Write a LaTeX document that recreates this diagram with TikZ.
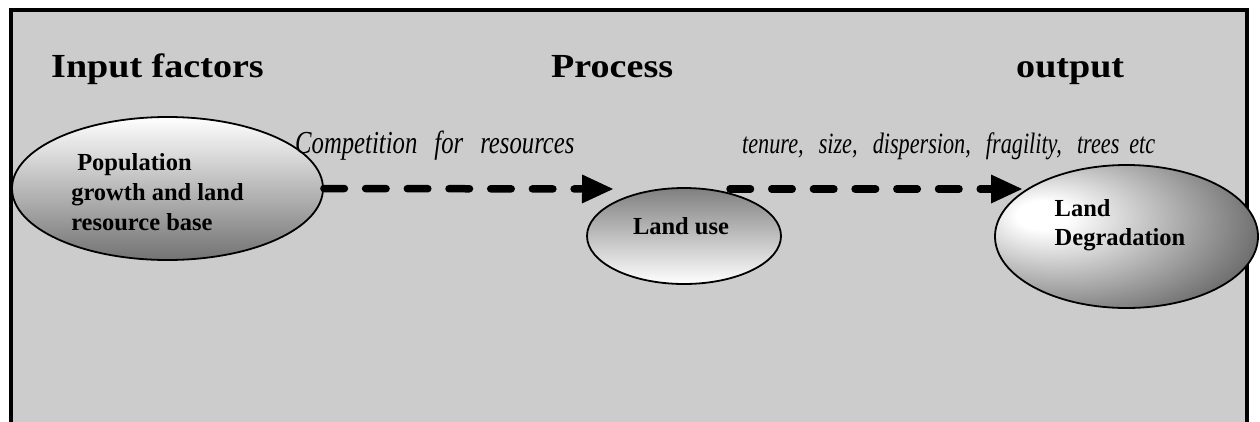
\documentclass[tikz,border=0pt]{standalone}
\usepackage{fontspec}
\setmainfont{Liberation Serif}
\usepackage{graphicx}
\usetikzlibrary{shapes.geometric,arrows.meta}
\definecolor{bg}{HTML}{CCCCCC}
\pgfdeclareradialshading{degshade}{\pgfpoint{-17bp}{8bp}}{color(0bp)=(white); color(5bp)=(white); color(37bp)=(black!60); color(80bp)=(black!62)}
\begin{document}
\begin{tikzpicture}[x=1pt,y=-1pt,
  frame/.style={draw=black,line width=4pt,fill=bg},
  oval/.style={ellipse,draw=black,line width=1.8pt,inner sep=0pt},
  heading/.style={anchor=base west,inner sep=0pt,font=\fontsize{33.7}{40}\selectfont\bfseries},
  flowlabel/.style={anchor=base west,inner sep=0pt},
  ovaltext/.style={font=\fontsize{24.5}{30}\selectfont\bfseries,align=left,text=black,inner sep=0pt},
  conn/.style={line width=7.5pt,line cap=round,dash pattern=on 20.5pt off 21.2pt,-{Triangle[length=31pt,width=29pt,line width=0pt]}}
]
\useasboundingbox (0,0) rectangle (1260,421);
\fill[white] (0,0) rectangle (1260,421);
\draw[frame] (10.5,9.5) -- (1247,9.5) -- (1247,440) -- (10.5,440) -- cycle;

\node[heading] (hin) at (51,77.3) {\scalebox{1.13}[1]{Input factors}};
\node[heading] (hproc) at (551,77.3) {\scalebox{1.13}[1]{Process}};
\node[heading] (hout) at (1016,77.3) {\scalebox{1.13}[1]{output}};

\node[oval, top color=white, bottom color=black!55, minimum width=311pt, minimum height=143pt,
  label={[ovaltext,xshift=-10pt,yshift=-3.7pt]center:{\hspace*{6pt}Population\\growth and land\\resource base}}] (pop) at (167.5,188.5) {};
\node[oval, top color=black!50, bottom color=white, minimum width=194pt, minimum height=96pt,
  label={[ovaltext,xshift=-3pt,yshift=9.4pt]center:{Land use}}] (use) at (684,236) {};
\node[oval, shading=degshade, minimum width=263pt, minimum height=143pt,
  label={[ovaltext,font=\fontsize{24.5}{29}\selectfont\bfseries,xshift=-6.5pt,yshift=11.3pt]center:{Land\\Degradation}}] (deg) at (1126.5,236.5) {};

\coordinate (t1) at (613,189);
\coordinate (s2) at (730,189);
\coordinate (t2) at (1022,189);
\draw[conn] (pop.east) -- (t1);
\draw[conn] (s2) -- (t2);

\node[flowlabel] (lab1) at (295,153.3) {\scalebox{0.772}[1]{\fontsize{32}{36}\selectfont\itshape Competition\hspace{0.69em}for\hspace{0.69em}resources}};
\node[flowlabel] (lab2) at (742,153.3) {\scalebox{0.753}[1]{\fontsize{29.5}{34}\selectfont\itshape tenure,\hspace{0.68em}size,\hspace{0.68em}dispersion,\hspace{0.68em}fragility,\hspace{0.68em}trees\hspace{0.45em}etc}};
\end{tikzpicture}
\end{document}
